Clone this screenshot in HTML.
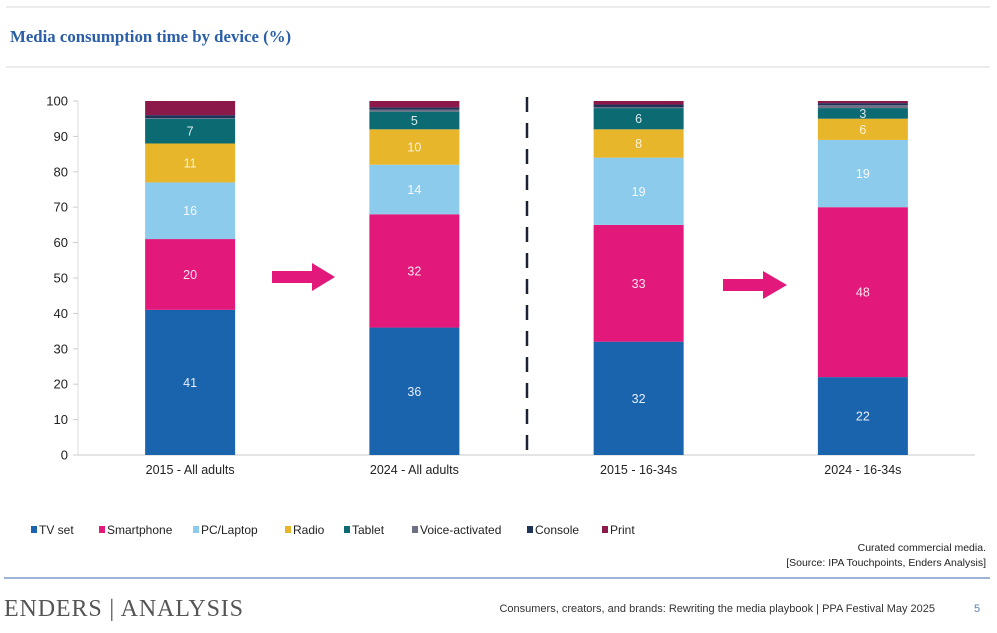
<!DOCTYPE html>
<html><head><meta charset="utf-8"><style>
html,body{margin:0;padding:0;background:#fff;width:997px;height:633px;overflow:hidden;font-family:"Liberation Sans",sans-serif}
</style></head><body>
<svg width="997" height="633" viewBox="0 0 997 633" xmlns="http://www.w3.org/2000/svg">
<line x1="6" y1="7" x2="990" y2="7" stroke="#d5d8de" stroke-width="1"/>
<text x="10" y="42" font-family="Liberation Serif,serif" font-weight="bold" font-size="16.8" fill="#2a5ea8">Media consumption time by device (%)</text>
<line x1="6" y1="67" x2="990" y2="67" stroke="#d5d8de" stroke-width="1"/>
<g id="plot"></g>
<line x1="527" y1="97" x2="527" y2="455" stroke="#1c2233" stroke-width="2.5" stroke-dasharray="15,11"/>
<polygon points="272,271 312,271 312,263 335,277 312,291 312,283 272,283" fill="#e2197a"/>
<polygon points="723,279 763,279 763,271 787,285 763,299 763,291 723,291" fill="#e2197a"/>
<g id="legend"></g>
<text x="986" y="551" text-anchor="end" font-size="10.5" fill="#222">Curated commercial media.</text>
<text x="986" y="566" text-anchor="end" font-size="10.5" fill="#222">[Source: IPA Touchpoints, Enders Analysis]</text>
<line x1="4" y1="578" x2="990" y2="578" stroke="#7e9cc8" stroke-width="1.5"/>
<text x="4" y="616" font-family="Liberation Serif,serif" font-size="24" textLength="239" fill="#555">ENDERS | ANALYSIS</text>
<text x="935" y="612" text-anchor="end" font-size="11" fill="#333">Consumers, creators, and brands: Rewriting the media playbook  |  PPA Festival May 2025</text>
<text x="977" y="612" text-anchor="middle" font-size="11" fill="#5a7fb8">5</text>
</svg>
<script>
const categories = ["2015 - All adults","2024 - All adults","2015 - 16-34s","2024 - 16-34s"];
const seriesNames = ["TV set","Smartphone","PC/Laptop","Radio","Tablet","Voice-activated","Console","Print"];
const tvSet = [41,36,32,22];
const smartphone = [20,32,33,48];
const pcLaptop = [16,14,19,19];
const radio = [11,10,8,6];
const tablet = [7,5,6,3];
const voiceActivated = [0.2,0.6,0.3,0.8];
const consoleVals = [0.8,0.6,0.7,0.6];
const print = [4,1.8,1,0.6];
const labelShown = [true,true,true,true,true,false,false,false];
const yTicks = [0,10,20,30,40,50,60,70,80,90,100];
const colors = ["#1a64ad","#e2197a","#8ccbec","#e8b62b","#0b6a72","#6e7186","#1f3359","#8b1a4a"];
const labelColors = ["#e8eef8","#fbe3ef","#f4fafe","#fdf3d6","#d8ecee","#fff","#fff","#fff"];
const series = [tvSet,smartphone,pcLaptop,radio,tablet,voiceActivated,consoleVals,print];
const NS="http://www.w3.org/2000/svg";
const plot=document.getElementById('plot');
const y0=455, y1=101, xL=78, xR=975;
const yScale=v=>y0-(v/100)*(y0-y1);
const bandW=(xR-xL)/categories.length;
const xCenter=i=>xL+bandW*(i+0.5);
const barW=90;
function mk(tag,attrs){const e=document.createElementNS(NS,tag);for(const k in attrs)e.setAttribute(k,attrs[k]);return e;}
let ax=mk('line',{x1:xL,y1:y0,x2:xR,y2:y0,stroke:'#c8c8c8','stroke-width':1});


plot.appendChild(ax);
let ay=mk('line',{x1:xL,y1:y1,x2:xL,y2:y0,stroke:'#dcdcdc','stroke-width':1});


plot.appendChild(ay);
yTicks.forEach(t=>{
  const tk=mk('line',{x1:xL-5,y1:yScale(t),x2:xL,y2:yScale(t),stroke:'#ccc'});
  
  
  plot.appendChild(tk);
  const tx=mk('text',{x:xL-10,y:yScale(t)+4.5,'text-anchor':'end','font-size':13,fill:'#222'});
  tx.textContent=t;
  
  
  plot.appendChild(tx);
});
categories.forEach((c,i)=>{
  let acc=0;
  const cx=xCenter(i);
  series.forEach((s,j)=>{
    const v=s[i];
    const r=mk('rect',{x:cx-barW/2,y:yScale(acc+v),width:barW,height:yScale(acc)-yScale(acc+v),fill:colors[j]});
    
    
    plot.appendChild(r);
    if(labelShown[j]){
      const t=mk('text',{x:cx,y:(yScale(acc)+yScale(acc+v))/2+4.5,'text-anchor':'middle','font-size':12.5,fill:labelColors[j]});
      t.textContent=v;
      
      
      plot.appendChild(t);
    }
    acc+=v;
  });
  const xl=mk('text',{x:cx,y:474,'text-anchor':'middle','font-size':12.5,fill:'#222'});
  xl.textContent=c;
  
  
  plot.appendChild(xl);
});
const lg=document.getElementById('legend');
const legendX=[31,99,193,285,344,412,527,602];
seriesNames.forEach((n,j)=>{
  const g=mk('g',{});
  
  
  g.appendChild(mk('rect',{x:legendX[j],y:526,width:6,height:7,fill:colors[j]}));
  const t=mk('text',{x:legendX[j]+8,y:534,'font-size':12,fill:'#222'});
  t.textContent=n;
  g.appendChild(t);
  lg.appendChild(g);
});
</script>
</body></html>
